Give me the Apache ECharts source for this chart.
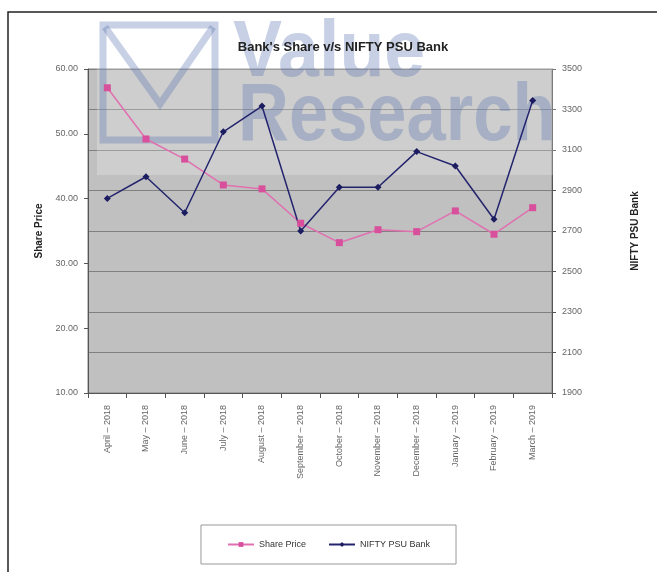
<!DOCTYPE html>
<html><head><meta charset="utf-8">
<script src="https://cdn.jsdelivr.net/npm/echarts@6/dist/echarts.min.js"></script>
<style>html,body{margin:0;padding:0;background:#fff}#c{width:657px;height:572px}</style>
</head><body><div id="c"></div>
<script>
const categories = ["April – 2018","May – 2018","June – 2018","July – 2018","August – 2018","September – 2018","October – 2018","November – 2018","December – 2018","January – 2019","February – 2019","March – 2019"];
const sharePrice = [57.1, 49.2, 46.1, 42.1, 41.5, 36.2, 33.2, 35.2, 34.9, 38.1, 34.5, 38.6];
const niftyPSU = [2861, 2968, 2790, 3190, 3317, 2700, 2916, 2916, 3092, 3021, 2758, 3344];
const leftTicks = {min: 10, max: 60, interval: 10};
const rightTicks = {min: 1900, max: 3500, interval: 200};

const chart = echarts.init(document.getElementById('c'), null, {renderer: 'canvas'});
const lab = {color: '#666', fontSize: 9, fontFamily: 'Liberation Sans, Arial, sans-serif'};
const wm = 'rgba(80,110,170,0.32)';
chart.setOption({
  backgroundColor: '#fff',
  animation: false,
  title: {
    text: "Bank's Share v/s NIFTY PSU Bank",
    left: 338, top: 36, textAlign: 'center',
    textStyle: {fontSize: 13, fontWeight: 'bold', color: '#222', fontFamily: 'Liberation Sans, Arial, sans-serif'}
  },
  grid: {left: 88, right: 105, top: 69, bottom: 179, show: true, backgroundColor: '#c0c0c0', borderColor: '#808080', borderWidth: 1},
  legend: {
    bottom: 8, left: 'center',
    padding: [15, 26, 15, 26],
    itemGap: 22,
    borderColor: '#999', borderWidth: 1,
    itemWidth: 26, itemHeight: 6,
    textStyle: {fontSize: 9, color: '#333', fontFamily: 'Liberation Sans, Arial, sans-serif'},
    data: ['Share Price', 'NIFTY PSU Bank']
  },
  xAxis: {
    type: 'category', data: categories, boundaryGap: true,
    axisLine: {lineStyle: {color: '#555'}},
    axisTick: {show: true, lineStyle: {color: '#555'}},
    axisLabel: Object.assign({rotate: 90, fontSize: 8, margin: 12, interval: 0}, lab),
    splitLine: {show: false}
  },
  yAxis: [
    {
      type: 'value', min: leftTicks.min, max: leftTicks.max, interval: leftTicks.interval,
      name: 'Share Price', nameLocation: 'middle', nameGap: 42, nameRotate: 90,
      nameTextStyle: {fontSize: 10, fontWeight: 'bold', color: '#222', fontFamily: 'Liberation Sans, Arial, sans-serif'},
      axisLine: {show: true, lineStyle: {color: '#555'}},
      axisTick: {show: true, length: 4, lineStyle: {color: '#555'}},
      axisLabel: Object.assign({formatter: v => v.toFixed(2), margin: 10}, lab),
      splitLine: {show: false}
    },
    {
      type: 'value', min: rightTicks.min, max: rightTicks.max, interval: rightTicks.interval,
      name: 'NIFTY PSU Bank', nameLocation: 'middle', nameGap: 78, nameRotate: 90,
      nameTextStyle: {fontSize: 10, fontWeight: 'bold', color: '#222', fontFamily: 'Liberation Sans, Arial, sans-serif'},
      axisLine: {show: true, lineStyle: {color: '#555'}},
      axisTick: {show: true, length: 4, lineStyle: {color: '#555'}},
      axisLabel: Object.assign({margin: 10, formatter: v => String(v)}, lab),
      splitLine: {show: true, lineStyle: {color: '#808080', width: 1}}
    }
  ],
  series: [
    {
      name: 'Share Price', type: 'line', yAxisIndex: 0, data: sharePrice,
      symbol: 'rect', symbolSize: 7, z: 5,
      lineStyle: {color: '#e070b0', width: 1.5},
      itemStyle: {color: '#d8509c'}
    },
    {
      name: 'NIFTY PSU Bank', type: 'line', yAxisIndex: 1, data: niftyPSU,
      symbol: 'diamond', symbolSize: 7, z: 5,
      lineStyle: {color: '#24246e', width: 1.5},
      itemStyle: {color: '#1c1c60'}
    }
  ],
  graphic: [
    {type: 'rect', shape: {x: 8, y: 12, width: 660, height: 580}, style: {fill: 'none', stroke: '#222', lineWidth: 1.5}, z: 0, silent: true},
    {type: 'rect', shape: {x: 97, y: 20, width: 460, height: 155}, style: {fill: 'rgba(255,255,255,0.22)'}, z: 1, silent: true},
    {type: 'rect', shape: {x: 103, y: 25, width: 112, height: 115}, style: {fill: 'none', stroke: wm, lineWidth: 7}, z: 1, silent: true},
    {type: 'polyline', shape: {points: [[105, 27], [160, 104], [213, 27]]}, style: {fill: 'none', stroke: wm, lineWidth: 7}, z: 1, silent: true},
    {type: 'text', x: 233, y: 14, scaleX: 0.92, style: {text: 'Value', fill: wm, font: 'bold 80px "Liberation Sans", Arial, sans-serif'}, z: 1, silent: true},
    {type: 'text', x: 238, y: 76, scaleX: 0.86, style: {text: 'Research', fill: wm, font: 'bold 82px "Liberation Sans", Arial, sans-serif'}, z: 1, silent: true}
  ]
});
</script>
</body></html>
